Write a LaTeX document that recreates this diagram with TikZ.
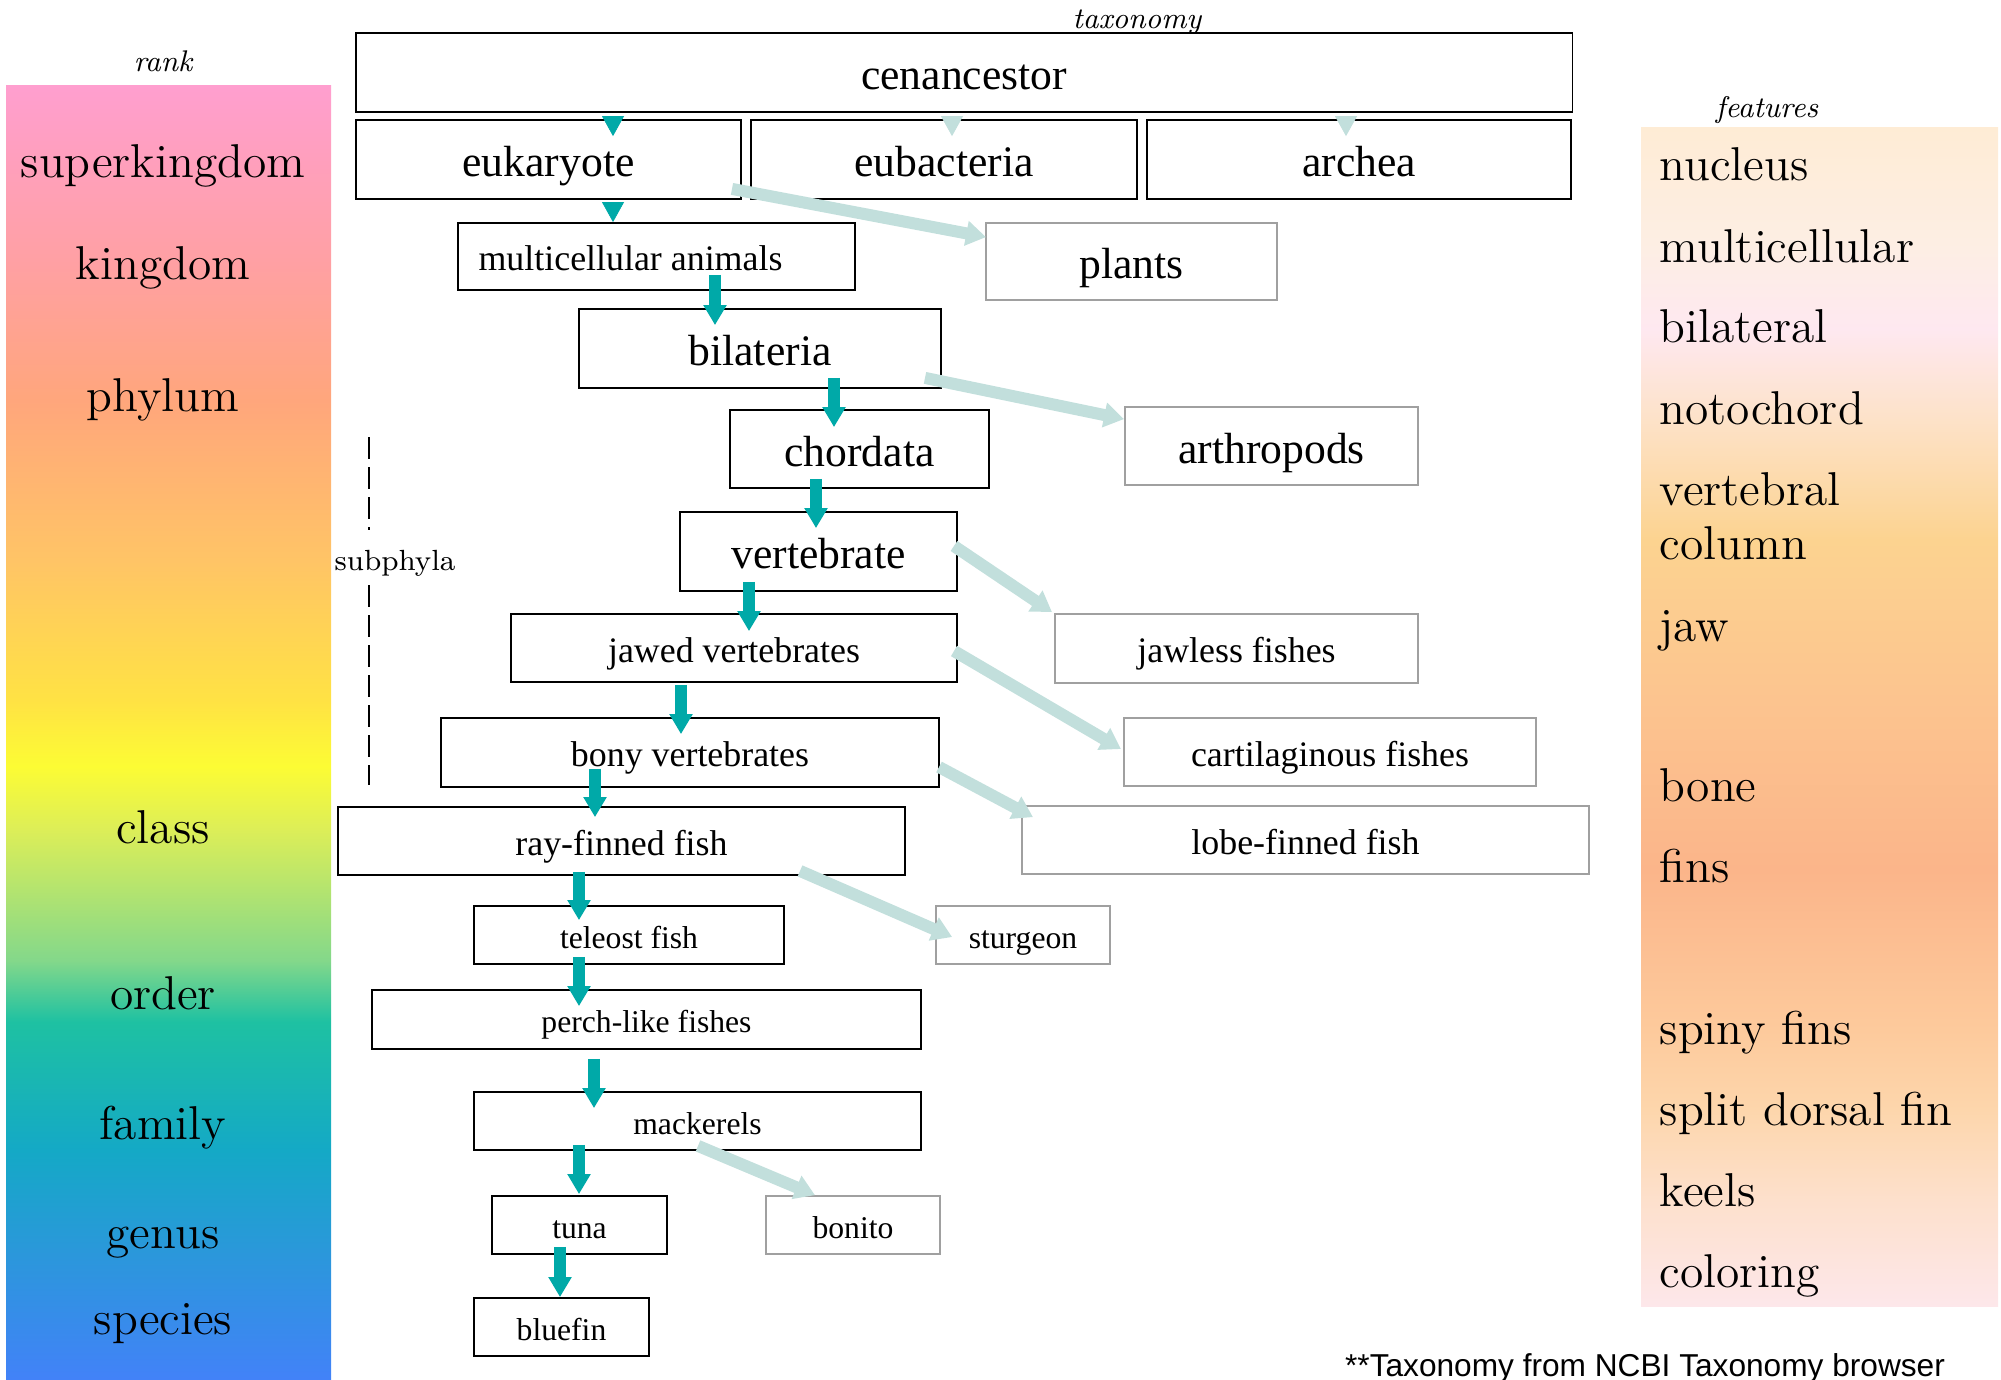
\documentclass[tikz,border=0pt]{standalone}
\usepackage{fontspec}
\newfontfamily\tms{Liberation Serif}
\newfontfamily\arl{Liberation Sans}
\usetikzlibrary{arrows.meta}

\definecolor{darkteal}{HTML}{00A9A8}
\definecolor{lightteal}{HTML}{C2DFDC}
\definecolor{sidegray}{HTML}{A0A0A0}
% rank bar colours, top to bottom
\definecolor{rkA}{HTML}{FF9FCF}
\definecolor{rkB}{HTML}{FFA0A4}
\definecolor{rkC}{HTML}{FFA67C}
\definecolor{rkD}{HTML}{FFC466}
\definecolor{rkE}{HTML}{FFE244}
\definecolor{rkF}{HTML}{FCFC34}
\definecolor{rkG}{HTML}{DCEE58}
\definecolor{rkH}{HTML}{84D88A}
\definecolor{rkI}{HTML}{1EC1A2}
\definecolor{rkJ}{HTML}{14A9C6}
\definecolor{rkK}{HTML}{2A98DA}
\definecolor{rkL}{HTML}{4282F8}
% features panel colours
\definecolor{ftA}{HTML}{FEECD5}
\definecolor{ftB}{HTML}{FDEEE4}
\definecolor{ftC}{HTML}{FEE8F0}
\definecolor{ftD}{HTML}{FDE2C8}
\definecolor{ftE}{HTML}{FCD390}
\definecolor{ftF}{HTML}{FCC48F}
\definecolor{ftG}{HTML}{FBB58A}
\definecolor{ftH}{HTML}{FDCA9C}
\definecolor{ftI}{HTML}{FDD6AC}
\definecolor{ftJ}{HTML}{FDE0CC}
\definecolor{ftK}{HTML}{FDE7EA}

\pgfdeclareverticalshading{rankshade}{100bp}{color(0bp)=(rkL); color(25bp)=(rkL); color(29.99bp)=(rkK); color(33.86bp)=(rkJ); color(38.81bp)=(rkI); color(41.2bp)=(rkH); color(46.23bp)=(rkG); color(48.7bp)=(rkF); color(51.26bp)=(rkE); color(56.67bp)=(rkD); color(62.86bp)=(rkC); color(68.27bp)=(rkB); color(75bp)=(rkA); color(100bp)=(rkA)}
\pgfdeclareverticalshading{featshade}{100bp}{color(0bp)=(ftK); color(25bp)=(ftK); color(29.5bp)=(ftJ); color(33.32bp)=(ftI); color(36.71bp)=(ftH); color(43.51bp)=(ftG); color(50.72bp)=(ftF); color(57.51bp)=(ftE); color(62.61bp)=(ftD); color(66.43bp)=(ftC); color(69.82bp)=(ftB); color(75bp)=(ftA); color(100bp)=(ftA)}

\begin{document}
\begin{tikzpicture}[x=0.01cm,y=-0.01cm,
    taxbox/.style={draw=black,line width=0.5pt,fill=white,inner sep=0pt,text height=0.8em,text depth=0pt},
    sidebox/.style={draw=sidegray,line width=0.5pt,fill=white,inner sep=0pt,text height=0.8em,text depth=0pt},
    bigbox/.style={taxbox,text height=0.97em,font=\tms\fontsize{12.4}{14}\selectfont},
    midbox/.style={taxbox,font=\tms\fontsize{10.2}{12}\selectfont},
    smallbox/.style={taxbox,text height=0.75em,font=\tms\fontsize{9}{11}\selectfont},
    bigside/.style={sidebox,text height=0.97em,font=\tms\fontsize{12.4}{14}\selectfont},
    midside/.style={sidebox,font=\tms\fontsize{10.2}{12}\selectfont},
    smallside/.style={sidebox,text height=0.75em,font=\tms\fontsize{9}{11}\selectfont},
    godown/.style={draw=darkteal,line width=0.12cm,-{Triangle[width=0.22cm,length=0.2cm]}},
    goside/.style={draw=lightteal,line width=0.12cm,-{Triangle[width=0.24cm,length=0.2cm]}},
    tiphead/.style={line width=0.2pt,-{Triangle[width=0.22cm,length=0.2cm]}},
    ttl/.style={inner sep=0pt,font=\fontsize{8.5}{10}\selectfont\itshape},
    ranklbl/.style={inner sep=0pt,text height=0.8em,text depth=0pt,font=\fontsize{13.5}{16}\selectfont},
    featfont/.style={inner sep=0pt,anchor=west,font=\fontsize{13.5}{15.4}\selectfont},
    featlbl/.style={featfont,text height=0.8em,text depth=0pt},
    subl/.style={inner sep=0pt,font=\fontsize{8.3}{10}\selectfont},
    subdash/.style={line width=0.3pt,dash pattern=on 0.22cm off 0.08cm},
    note/.style={inner sep=0pt,font=\arl\fontsize{9}{11}\selectfont}]
\useasboundingbox (0,0) rectangle (2001,1379);

% rank column
\shade[shading=rankshade] (6,86) rectangle (331,1379);
\node[ttl] (rtitle) at (163,61) {rank};
\foreach \y/\t [count=\i] in {163/superkingdom,265/kingdom,397/phylum,829/class,995/order,1125/family,1234/genus,1320/species}
    \node[ranklbl] (rk\i) at (163,\y) {\t};

% features column
\shade[shading=featshade] (1641,128) rectangle (1998,1306);
\node[ttl] (ftitle) at (1767,110) {features};
\foreach \y/\t [count=\i] in {166/nucleus,248/multicellular,328/bilateral,410/notochord,627/jaw,787/bone,868/fins,1030/spiny fins,1111/split dorsal fin,1192/keels,1273/coloring}
    \node[featlbl] (ft\i) at (1659,\y) {\t};
\node[featfont,align=left] (ftvc) at (1659,516) {vertebral\\column};

% taxonomy
\node[ttl] (ttitle) at (1137,22) {taxonomy};
\node[bigbox,minimum width=12.16cm,minimum height=0.79cm] (cen) at (964,72.5) {cenancestor};
\node[bigbox,minimum width=3.85cm,minimum height=0.79cm] (euk) at (548.5,159.5) {eukaryote};
\node[bigbox,minimum width=3.86cm,minimum height=0.79cm] (eub) at (944,159.5) {eubacteria};
\node[bigbox,minimum width=4.24cm,minimum height=0.79cm] (arc) at (1359,159.5) {archea};
\node[midbox,minimum width=3.97cm,minimum height=0.67cm] (mca) at (656.5,256.5) {multicellular animals\hspace*{0.52cm}};
\node[bigside,minimum width=2.91cm,minimum height=0.77cm] (pla) at (1131.5,261.5) {plants};
\node[bigbox,minimum width=3.62cm,minimum height=0.79cm] (bil) at (760,348.5) {bilateria};
\node[bigside,minimum width=2.93cm,minimum height=0.78cm] (art) at (1271.5,446) {arthropods};
\node[bigbox,minimum width=2.59cm,minimum height=0.78cm] (cho) at (859.5,449) {chordata};
\node[bigbox,minimum width=2.77cm,minimum height=0.79cm] (ver) at (818.5,551.5) {vertebrate};
\node[midside,minimum width=3.63cm,minimum height=0.69cm] (jlf) at (1236.5,648.5) {jawless fishes};
\node[midbox,minimum width=4.46cm,minimum height=0.68cm] (jaw) at (734,648) {jawed vertebrates};
\node[midbox,minimum width=4.98cm,minimum height=0.69cm] (bon) at (690,752.5) {bony vertebrates};
\node[midside,minimum width=4.12cm,minimum height=0.68cm] (car) at (1330,752) {cartilaginous fishes};
\node[midbox,minimum width=5.67cm,minimum height=0.68cm] (ray) at (621.5,841) {ray-finned fish};
\node[midside,minimum width=5.67cm,minimum height=0.68cm] (lob) at (1305.5,840) {lobe-finned fish};
\node[smallbox,minimum width=3.10cm,minimum height=0.58cm] (tel) at (629,935) {teleost fish};
\node[smallside,minimum width=1.74cm,minimum height=0.58cm] (stu) at (1023,935) {sturgeon};
\node[smallbox,minimum width=5.49cm,minimum height=0.59cm] (per) at (646.5,1019.5) {perch-like fishes};
\node[smallbox,minimum width=4.47cm,minimum height=0.58cm] (mac) at (697.5,1121) {mackerels};
\node[smallbox,minimum width=1.75cm,minimum height=0.58cm] (tun) at (579.5,1225) {tuna};
\node[smallside,minimum width=1.74cm,minimum height=0.58cm] (bto) at (853,1225) {bonito};
\node[smallbox,minimum width=1.75cm,minimum height=0.58cm] (blu) at (561.5,1327) {bluefin};

% subphyla bracket
\node[subl] (sub) at (395,563) {subphyla};
\draw[subdash] (369,437) -- (369,530);
\draw[subdash] (369,585) -- (369,785);

% main line
\draw[tiphead,darkteal] ([shift={(-351,5)}]cen.south) -- ([shift={(64.5,17)}]euk.north);
\draw[tiphead,lightteal] ([shift={(-12,5)}]cen.south) -- ([shift={(8,17)}]eub.north);
\draw[tiphead,lightteal] ([shift={(382,5)}]cen.south) -- ([shift={(-13,17)}]arc.north);
\draw[tiphead,darkteal] ([shift={(64.5,4)}]euk.south) -- ([shift={(-43.5,0)}]mca.north);
\draw[godown] ([shift={(58.5,-16)}]mca.south) -- ([shift={(-45,17)}]bil.north);
\draw[godown] ([shift={(74,-11)}]bil.south) -- ([shift={(-25.5,18)}]cho.north);
\draw[godown] ([shift={(-43.5,-10)}]cho.south) -- ([shift={(-2.5,17)}]ver.north);
\draw[godown] ([shift={(-69.5,-10)}]ver.south) -- ([shift={(15,18)}]jaw.north);
\draw[godown] ([shift={(-53,2)}]jaw.south) -- ([shift={(-9,17)}]bon.north);
\draw[godown] ([shift={(-95,-19)}]bon.south) -- ([shift={(-26.5,11)}]ray.north);
\draw[godown] ([shift={(-42.5,-4)}]ray.south) -- ([shift={(-50,15)}]tel.north);
\draw[godown] ([shift={(-50,-8)}]tel.south) -- ([shift={(-67.5,17)}]per.north);
\draw[godown] ([shift={(-52.5,9)}]per.south) -- ([shift={(-103.5,17)}]mac.north);
\draw[godown] ([shift={(-118.5,-6)}]mac.south) -- ([shift={(-0.5,-1)}]tun.north);
\draw[godown] ([shift={(-19.5,-8)}]tun.south) -- ([shift={(-1.5,0)}]blu.north);

% side branches
\draw[goside] ([shift={(-10,-11)}]euk.south east) -- ([shift={(1,15)}]pla.north west);
\draw[goside] ([shift={(-17,-11)}]bil.south east) -- ([shift={(0,13)}]art.north west);
\draw[goside] ([shift={(-4,-5.5)}]ver.east) -- ([shift={(-2,-1)}]jlf.north west);
\draw[goside] ([shift={(-4,3)}]jaw.east) -- ([shift={(-2,-3)}]car.west);
\draw[goside] ([shift={(-1,14.5)}]bon.east) -- ([shift={(12,12)}]lob.north west);
\draw[goside] ([shift={(178.5,-5)}]ray.south) -- ([shift={(17,2)}]stu.west);
\draw[goside] ([shift={(0.5,-5)}]mac.south) -- ([shift={(-38,0)}]bto.north);

\node[note] (src) at (1645,1368) {**Taxonomy from NCBI Taxonomy browser};
\end{tikzpicture}
\end{document}
